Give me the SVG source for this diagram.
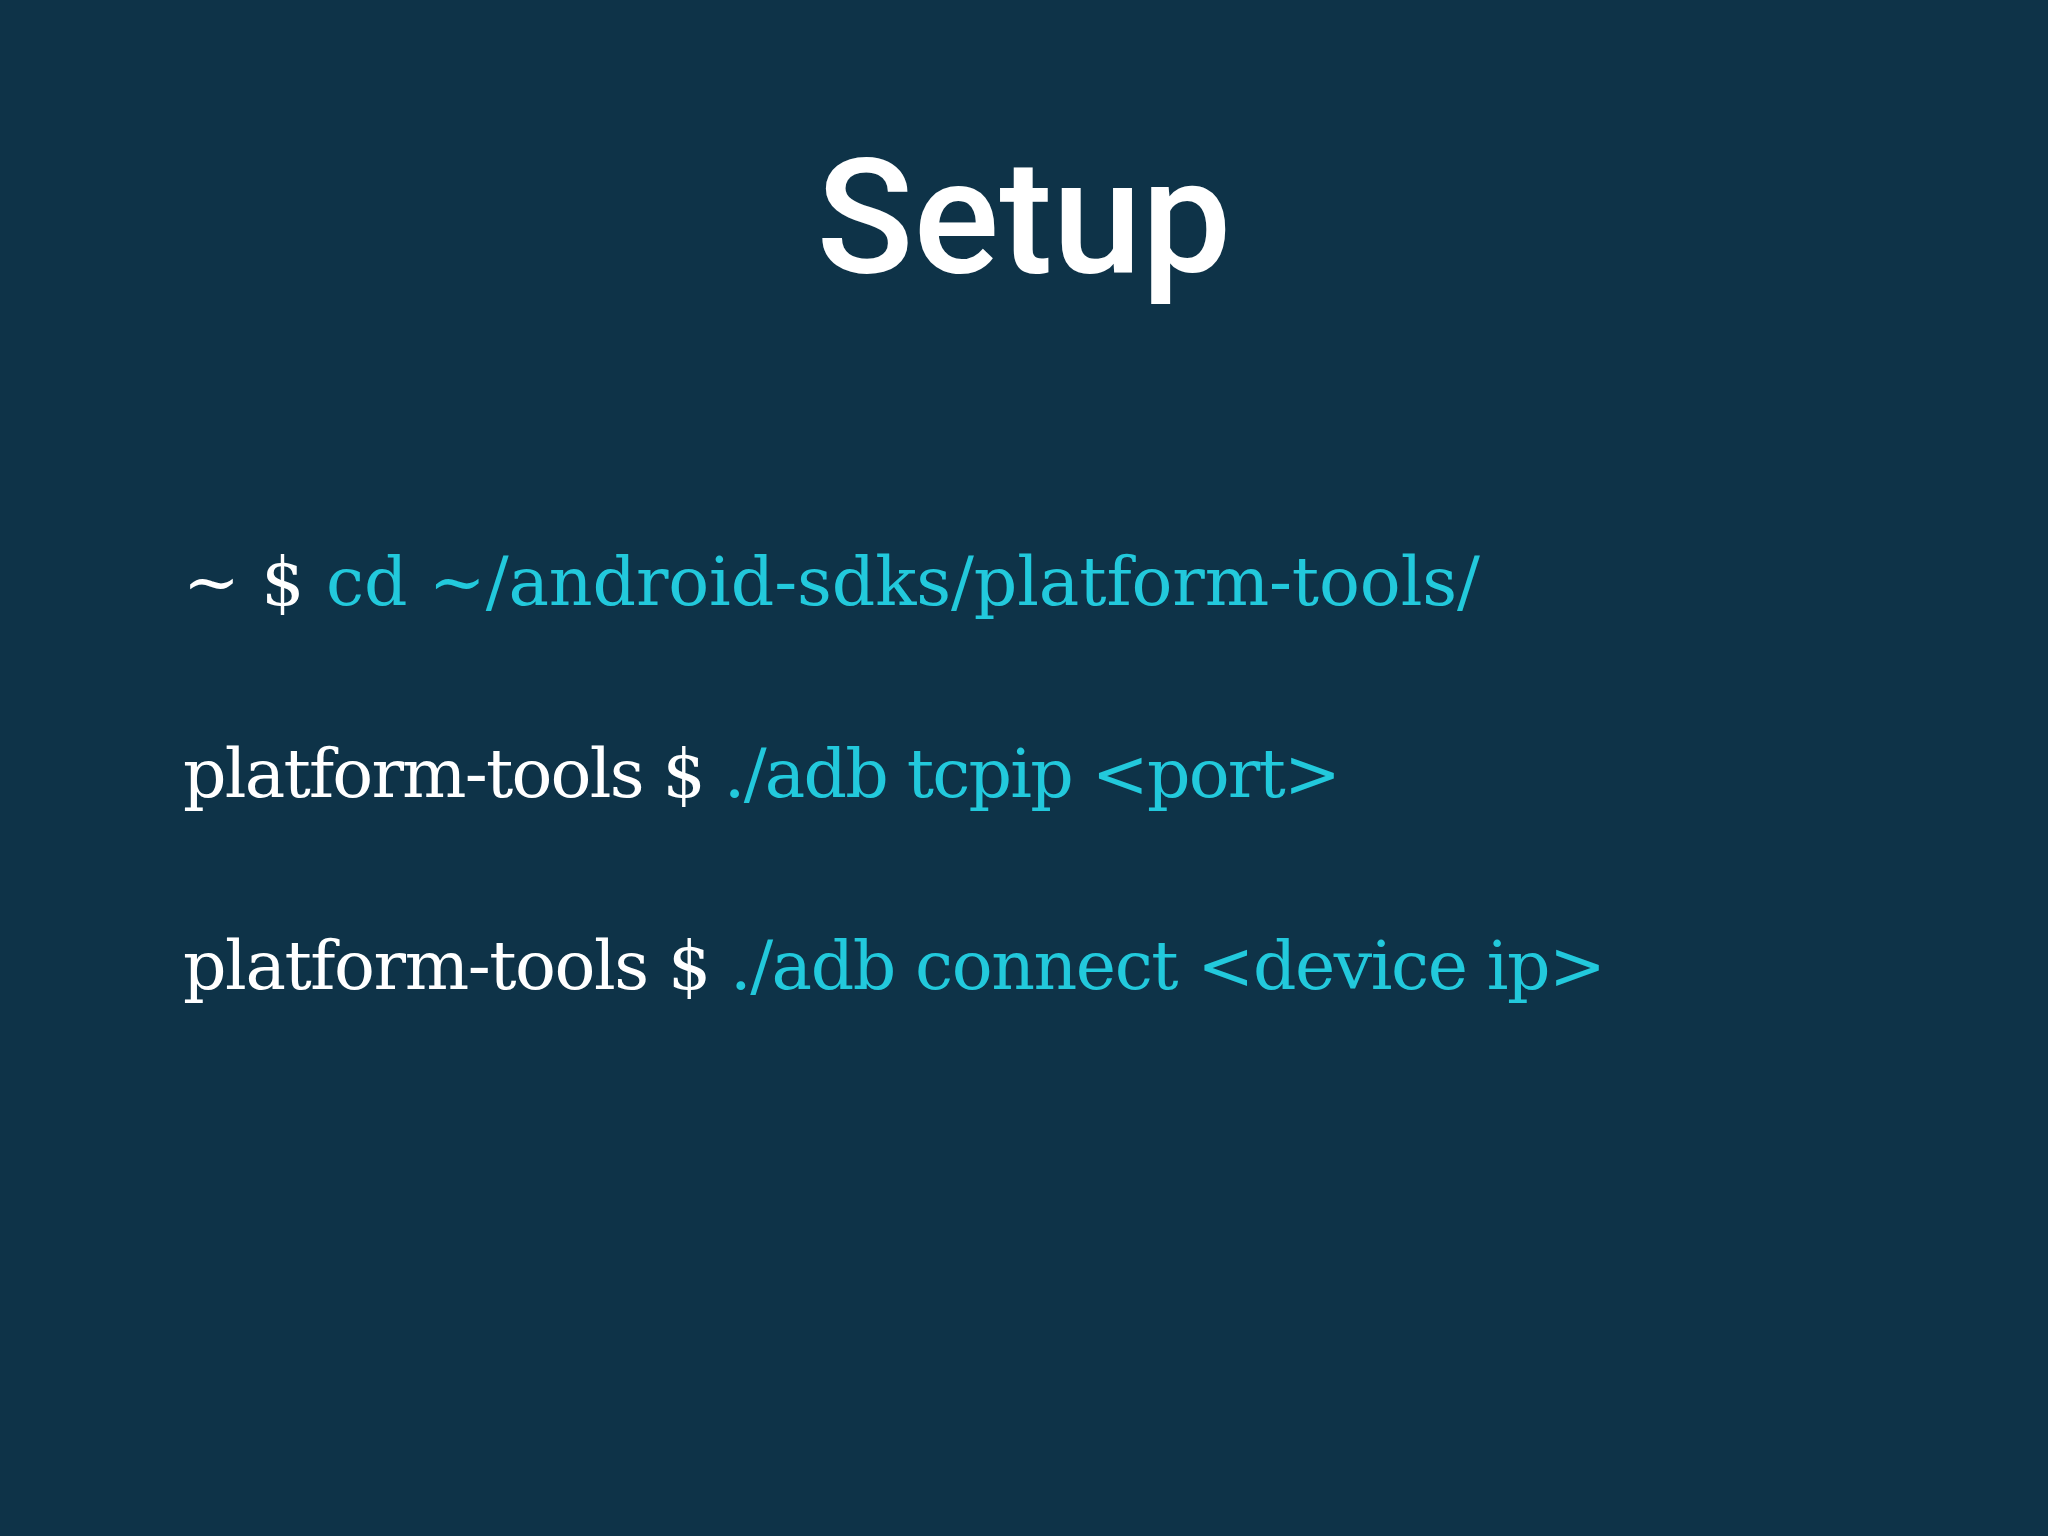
<svg xmlns="http://www.w3.org/2000/svg" width="2048" height="1536" viewBox="0 0 2048 1536">
<style>
.t{font-family:"DejaVu Serif","Liberation Serif",serif;font-size:68px;fill:#ffffff}
.c{fill:#22c9dc}
</style>
<rect width="2048" height="1536" fill="#0e3348"/>
<g id="title"><text x="1024" y="272" text-anchor="middle" font-family="Roboto,'Liberation Sans',sans-serif" font-weight="500" font-size="160" fill="#ffffff">Setup</text></g>
<g id="line1"><text class="t" x="183" y="605" textLength="1297" lengthAdjust="spacing">~ $ <tspan class="c">cd ~/android-sdks/platform-tools/</tspan></text></g>
<g id="line2"><text class="t" x="183" y="797" textLength="1158" lengthAdjust="spacing">platform-tools $ <tspan class="c">./adb tcpip &lt;port&gt;</tspan></text></g>
<g id="line3"><text class="t" x="183" y="989" textLength="1423" lengthAdjust="spacing">platform-tools $ <tspan class="c">./adb connect &lt;device ip&gt;</tspan></text></g>
</svg>
